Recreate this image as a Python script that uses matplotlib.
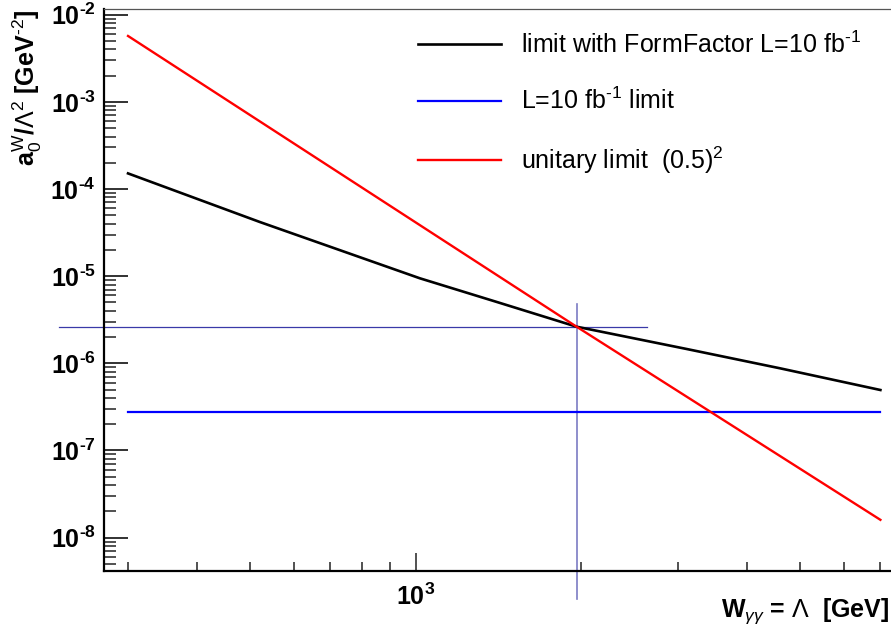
import matplotlib
matplotlib.use("Agg")
import matplotlib.pyplot as plt
from matplotlib.ticker import LogLocator, FixedLocator, FuncFormatter, NullFormatter
import numpy as np

plt.rcParams['font.family'] = ['Liberation Sans', 'DejaVu Sans']
plt.rcParams['mathtext.fontset'] = 'custom'
plt.rcParams['mathtext.rm'] = 'Liberation Sans'
plt.rcParams['mathtext.bf'] = 'Liberation Sans:bold'
plt.rcParams['mathtext.it'] = 'Liberation Sans:italic'
plt.rcParams['mathtext.sf'] = 'Liberation Sans'

HY = '\u2010'  # plain hyphen as in the original superscripts

# ---- data ----
lam_ff = [300, 521, 1018, 1400, 1962, 3110, 4596, 7000]
a_ff = [1.51e-4, 4.18e-5, 9.45e-6, 5.09e-6, 2.63e-6, 1.46e-6, 8.77e-7, 4.94e-7]

lam_lumi = [300, 7000]
a_lumi = [2.74e-7, 2.74e-7]

lam_unit = [300, 1962, 7000]
a_unit = [5.7e-3, 2.63e-6, 1.6e-8]

cross_h_x = [225, 2632]
cross_h_y = [2.63e-6, 2.63e-6]
cross_v_x = [1962, 1962]
cross_v_y = [4.79e-6, 1.96e-9]

labels = ["limit with FormFactor L=10 fb$^{%s1}$" % HY,
          "L=10 fb$^{%s1}$ limit" % HY,
          "unitary limit  (0.5)$^{2}$"]

xlim = (271.3, 7727)
ylim = (4.14e-9, 1.162e-2)

W, H = 891, 631
fig = plt.figure(figsize=(W / 100, H / 100), dpi=100)
ax = fig.add_axes([104 / W, (H - 571) / H, (904 - 104) / W, (571 - 9) / H])
ax.set_xscale('log')
ax.set_yscale('log')
ax.set_xlim(*xlim)
ax.set_ylim(*ylim)

l1, = ax.plot(lam_ff, a_ff, color='black', lw=1.9, label=labels[0])
l2, = ax.plot(lam_lumi, a_lumi, color='#0000ff', lw=1.6, label=labels[1])
l3, = ax.plot(lam_unit, a_unit, color='#ff0000', lw=1.7, label=labels[2])

ax.plot(cross_h_x, cross_h_y, color='#3a3aa8', lw=0.9, clip_on=False, zorder=1)
ax.plot(cross_v_x, cross_v_y, color='#7c7cc4', lw=1.2, clip_on=False, zorder=1)

# ticks
ax.yaxis.set_major_locator(FixedLocator([1e-8, 1e-7, 1e-6, 1e-5, 1e-4, 1e-3, 1e-2]))
ax.yaxis.set_minor_locator(LogLocator(base=10, subs=np.arange(2, 10), numticks=20))
ax.yaxis.set_minor_formatter(NullFormatter())
ax.xaxis.set_major_locator(FixedLocator([1000]))
ax.xaxis.set_minor_locator(LogLocator(base=10, subs=np.arange(2, 10), numticks=20))
ax.xaxis.set_minor_formatter(NullFormatter())

def fmt(v, pos):
    e = int(round(np.log10(v)))
    s = str(e).replace('-', HY)
    return r'$\mathbf{10^{%s}}$' % s

ax.yaxis.set_major_formatter(FuncFormatter(fmt))
ax.xaxis.set_major_formatter(FuncFormatter(fmt))

ax.tick_params(axis='y', which='major', direction='in', length=17, width=1.3, labelsize=18, pad=6)
ax.tick_params(axis='y', which='minor', direction='in', length=8.5, width=1.1)
ax.tick_params(axis='x', which='major', direction='in', length=13, width=1.1, labelsize=18, pad=9)
ax.tick_params(axis='x', which='minor', direction='in', length=6.5, width=1.1)
ax.tick_params(which='both', color='#222222')

for s in ['left', 'bottom']:
    ax.spines[s].set_linewidth(1.6)
ax.spines['top'].set_linewidth(0.9)
ax.spines['top'].set_color('#555555')
ax.spines['right'].set_linewidth(0.9)

# axis titles
fig.text(27 / W, 1 - 10 / H,
         r'a$_{0}^{\mathrm{W}}$/$\Lambda^{2}$ [GeV$^{%s2}$]' % HY,
         rotation=90, ha='center', va='top', fontsize=18, fontweight='bold')
fig.text(889 / W, 1 - 611 / H, r'$\mathbf{W}_{\gamma\gamma}$ = $\Lambda$  [GeV]',
         ha='right', va='center', fontsize=18, fontweight='bold')

leg = ax.legend(handles=[l1, l2, l3], loc='upper left',
                bbox_to_anchor=(410 / W, 1 - 24 / H), bbox_transform=fig.transFigure,
                frameon=False, fontsize=18, handlelength=3.35, handletextpad=0.8,
                labelspacing=1.2, borderaxespad=0, borderpad=0.3)

fig.savefig('out.png', dpi=100)
